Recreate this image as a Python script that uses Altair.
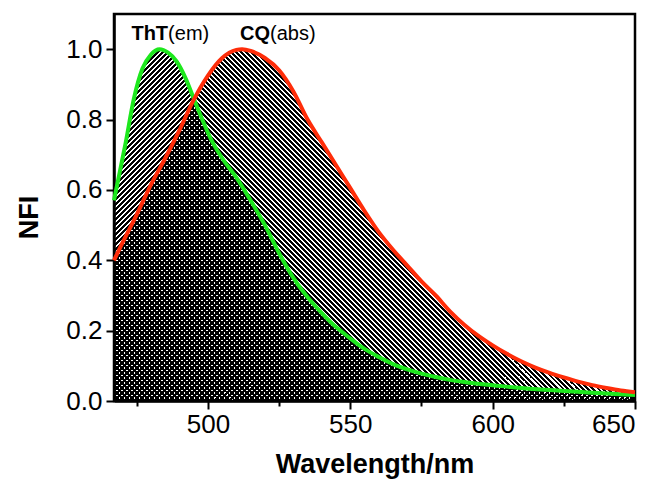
import altair as alt
import pandas as pd
import numpy as np

# ThT emission (green)
wl_tht = [467, 469, 471, 474, 477, 480, 483, 486, 489, 492, 495, 498, 501, 505, 510,
          515, 520, 525, 530, 535, 540, 545, 550, 555, 560, 565, 570, 575, 580, 585,
          590, 595, 600, 610, 620, 630, 640, 650]
nfi_tht = [0.57, 0.65, 0.73, 0.86, 0.945, 0.985, 1.0, 0.99, 0.965, 0.92, 0.86, 0.80,
           0.745, 0.69, 0.635, 0.57, 0.50, 0.42, 0.35, 0.295, 0.25, 0.21, 0.178, 0.148,
           0.125, 0.105, 0.09, 0.078, 0.068, 0.06, 0.054, 0.049, 0.045, 0.037, 0.031,
           0.026, 0.021, 0.017]

# CQ absorption (red)
wl_cq = [467, 470, 475, 480, 485, 490, 495, 500, 505, 510, 512, 515, 520, 525, 530,
         535, 540, 545, 550, 555, 560, 565, 570, 575, 580, 585, 590, 595, 600, 605,
         610, 615, 620, 625, 630, 635, 640, 645, 650]
nfi_cq = [0.40, 0.45, 0.53, 0.615, 0.69, 0.77, 0.856, 0.925, 0.975, 0.998, 1.0, 0.995,
          0.975, 0.94, 0.88, 0.80, 0.735, 0.67, 0.605, 0.54, 0.48, 0.43, 0.385, 0.34,
          0.30, 0.255, 0.217, 0.185, 0.158, 0.134, 0.113, 0.095, 0.08, 0.067, 0.055,
          0.045, 0.037, 0.03, 0.025]

x_ticks = [475, 500, 525, 550, 575, 600, 625, 650]
y_ticks = [0.0, 0.1, 0.2, 0.3, 0.4, 0.5, 0.6, 0.7, 0.8, 0.9, 1.0]

lab_x = [486.0, 521.8]
lab_y = [1.026, 1.026]
lab_bold = ["ThT", "CQ"]
lab_norm = ["(em)", "(abs)"]

PLOT_W, PLOT_H = 521, 387
X_DOM = [467, 650]
Y_DOM = [0, 1.1]
FONT = "Liberation Sans"

df_tht = pd.DataFrame({"wl": wl_tht, "nfi": nfi_tht})
df_cq = pd.DataFrame({"wl": wl_cq, "nfi": nfi_cq})
df_lab = pd.DataFrame({"x": lab_x, "y": lab_y, "b": lab_bold, "n": lab_norm})


def hatch(direction, peak, hperiod=5.0, frac=0.58):
    W = PLOT_W
    H = PLOT_H * peak / Y_DOM[1]
    r = H / W
    s = (1 + r) / (1 + r * r)
    span = (W + H) / np.sqrt(2)
    p = (hperiod / np.sqrt(2)) / span
    stops = []
    clear = "rgba(0,0,0,0)"
    k = 0
    while k * p < 1:
        a = k * p
        b = min((k + frac) * p, 1.0)
        c = min((k + 1) * p, 1.0)
        stops += [alt.GradientStop(offset=a, color="black"),
                  alt.GradientStop(offset=b, color="black"),
                  alt.GradientStop(offset=b, color=clear),
                  alt.GradientStop(offset=c, color=clear)]
        k += 1
    if direction == "/":
        return alt.LinearGradient(gradient="linear", stops=stops,
                                  x1=0, y1=0, x2=s, y2=s * r)
    return alt.LinearGradient(gradient="linear", stops=stops,
                              x1=0, y1=1, x2=s, y2=1 - s * r)


x_axis = alt.Axis(
    values=x_ticks,
    labelExpr="datum.value % 50 == 0 ? datum.label : ''",
    tickSize={"condition": {"test": "datum.value % 50 == 0", "value": 8}, "value": 5},
    tickWidth=2, tickColor="black", domainColor="black", domainWidth=2.5,
    labelFont=FONT, labelFontSize=26, labelColor="black", labelPadding=2,
    title="Wavelength/nm", titleFont=FONT, titleFontSize=27, titleFontWeight="bold",
    titleColor="black", titleBaseline="alphabetic", titleY=71, grid=False,
)
y_axis = alt.Axis(
    values=y_ticks,
    labelExpr="round(datum.value * 10) % 2 == 0 ? format(datum.value, '.1f') : ''",
    tickSize={"condition": {"test": "round(datum.value * 10) % 2 == 0", "value": 8}, "value": 5},
    tickWidth=2, tickColor="black", domainColor="black", domainWidth=2.5,
    labelFont=FONT, labelFontSize=26, labelColor="black", labelPadding=4,
    title="NFI", titleFont=FONT, titleFontSize=27, titleFontWeight="bold",
    titleColor="black", titleAngle=270, titleAlign="center", titleBaseline="alphabetic",
    titleX=-77, titleY=203, grid=False,
)

xs = alt.Scale(domain=X_DOM, nice=False, zero=False)
ys = alt.Scale(domain=Y_DOM, nice=False)

area_cq = alt.Chart(df_cq).mark_area(
    fill=hatch("\\", max(nfi_cq)), interpolate="monotone"
).encode(x=alt.X("wl:Q", scale=xs, axis=x_axis), y=alt.Y("nfi:Q", scale=ys, axis=y_axis))

area_tht = alt.Chart(df_tht).mark_area(
    fill=hatch("/", max(nfi_tht)), interpolate="monotone"
).encode(x=alt.X("wl:Q", scale=xs), y=alt.Y("nfi:Q", scale=ys))

line_tht = alt.Chart(df_tht).mark_line(
    color="#1ee81e", strokeWidth=4, interpolate="monotone"
).encode(x="wl:Q", y="nfi:Q")

line_cq = alt.Chart(df_cq).mark_line(
    color="#ff2d0a", strokeWidth=4, interpolate="monotone"
).encode(x="wl:Q", y="nfi:Q")

txt_b = alt.Chart(df_lab).mark_text(
    align="right", baseline="alphabetic", font=FONT, fontSize=20,
    fontWeight="bold", color="black"
).encode(x="x:Q", y="y:Q", text="b:N")

txt_n = alt.Chart(df_lab).mark_text(
    align="left", baseline="alphabetic", font=FONT, fontSize=20, color="black"
).encode(x="x:Q", y="y:Q", text="n:N")

chart = alt.layer(area_cq, area_tht, line_tht, line_cq, txt_b, txt_n).properties(
    width=PLOT_W, height=PLOT_H,
    autosize=alt.AutoSizeParams(type="none"),
    padding={"left": 114, "top": 14, "right": 26, "bottom": 78},
    background="white",
).configure_view(stroke="black", strokeWidth=2.5)

chart.save("out.html", embed_options={"renderer": "svg", "actions": False})
